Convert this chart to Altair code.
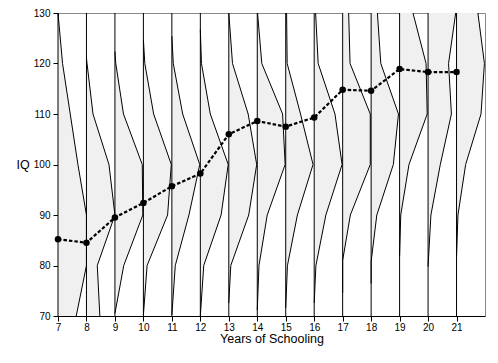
import altair as alt
import pandas as pd

# ---- data ----
YEARS = list(range(7, 22))
MEAN_IQ = [85.2, 84.5, 89.5, 92.4, 95.7, 98.2, 106.0, 108.6, 107.5, 109.3,
           114.8, 114.6, 118.9, 118.3, 118.3]
IQ_TICKS = [70, 80, 90, 100, 110, 120, 130]

# density profile per year: IQ levels and horizontal width (in years)
DENS_IQ = {
    7:  [130, 120, 110, 100, 90, 80, 70],
    8:  [121.1, 120, 110, 100, 90, 80, 70],
    9:  [122.4, 120, 110, 100, 90, 80, 70.5],
    10: [124.7, 120, 110, 100, 90, 80, 70.2],
    11: [125.4, 120, 110, 100, 90, 80, 70.2],
    12: [126.7, 120, 110, 100, 90, 80, 70],
    13: [130, 120, 110, 100, 90, 80, 72.6],
    14: [130, 120, 110, 100, 90, 80, 71.2],
    15: [130, 120, 110, 100, 90, 80, 71.6],
    16: [130, 120, 110, 100, 90, 80, 72.6],
    17: [130, 120, 110, 100, 90, 81, 74.6],
    18: [130, 120, 110, 100, 90, 80.8, 76.4],
    19: [130, 120, 110, 100, 90, 81.8],
    20: [130, 120, 110, 100, 90, 79.8],
    21: [130, 120, 110, 100, 90, 81.8],
}
DENS_W = {
    7:  [0.0, 0.16, 0.43, 0.70, 1.0, 1.0, 0.64],
    8:  [0.0, 0.02, 0.23, 0.79, 1.0, 0.38, 0.47],
    9:  [0.0, 0.03, 0.30, 0.96, 0.98, 0.31, 0.0],
    10: [0.0, 0.05, 0.36, 0.98, 0.85, 0.13, 0.0],
    11: [0.0, 0.05, 0.38, 0.98, 0.60, 0.12, 0.0],
    12: [0.0, 0.04, 0.35, 0.98, 0.73, 0.12, 0.0],
    13: [0.0, 0.13, 0.68, 0.98, 0.70, 0.07, 0.0],
    14: [0.01, 0.16, 0.89, 0.98, 0.35, 0.06, 0.0],
    15: [0.03, 0.05, 0.52, 0.96, 0.41, 0.06, 0.0],
    16: [0.05, 0.14, 0.73, 0.98, 0.41, 0.06, 0.0],
    17: [0.21, 0.26, 0.97, 0.97, 0.27, 0.0, 0.0],
    18: [0.22, 0.34, 0.96, 0.78, 0.20, 0.0, 0.0],
    19: [0.47, 0.93, 0.97, 0.33, 0.04, 0.0],
    20: [0.97, 0.72, 0.82, 0.43, 0.10, 0.0],
    21: [0.75, 0.98, 0.86, 0.32, 0.05, 0.0],
}

rows = []
for yr in YEARS:
    for iq, w in zip(DENS_IQ[yr], DENS_W[yr]):
        rows.append({"year": yr, "iq": iq, "x": yr + w, "base": yr})
dens = pd.DataFrame(rows)
means = pd.DataFrame({"year": YEARS, "iq": MEAN_IQ})
yrs = pd.DataFrame({"year": YEARS})

FONT = "Liberation Sans"
xscale = alt.Scale(domain=[7, 22], nice=False, zero=False)
yscale = alt.Scale(domain=[70, 130], nice=False, zero=False)

xaxis = alt.Axis(values=YEARS, tickCount=30, format="d", title="Years of Schooling",
                 grid=False, labelFontSize=10, titleFontSize=12.5,
                 titleFontWeight="normal", tickSize=5, labelPadding=1, titlePadding=0,
                 labelOverlap=False, labelFlush=False)
yaxis = alt.Axis(values=IQ_TICKS, tickCount=30, format="d", title="IQ", grid=False,
                 labelFontSize=10, titleFontSize=12.5, titleFontWeight="normal",
                 tickSize=5, labelPadding=3, titleAngle=0, titleAlign="left",
                 titleBaseline="middle", titleX=-42, titleY=151.5,
                 labelOverlap=False, labelFlush=False)

# filled density shapes, one polygon per year
area = alt.Chart(dens).mark_area(orient="horizontal", fill="#f0f0f0",
                                 fillOpacity=1, strokeWidth=0).encode(
    y=alt.Y("iq:Q", scale=yscale, axis=yaxis),
    x=alt.X("x:Q", scale=xscale, axis=xaxis, stack=None),
    x2=alt.X2("base:Q"),
    detail=alt.Detail("year:N"),
)

rules = alt.Chart(yrs).mark_rule(color="black", strokeWidth=1).encode(
    x=alt.X("year:Q", scale=xscale)
)

curves = alt.Chart(dens).mark_line(color="black", strokeWidth=1).encode(
    x=alt.X("x:Q", scale=xscale),
    y=alt.Y("iq:Q", scale=yscale),
    detail="year:N",
    order=alt.Order("iq:Q"),
)

mean_line = alt.Chart(means).mark_line(color="black", strokeWidth=2.2,
                                       strokeDash=[3.5, 2]).encode(
    x=alt.X("year:Q", scale=xscale),
    y=alt.Y("iq:Q", scale=yscale),
)
mean_pts = alt.Chart(means).mark_circle(color="black", size=42, opacity=1).encode(
    x=alt.X("year:Q", scale=xscale),
    y=alt.Y("iq:Q", scale=yscale),
)

chart = alt.layer(area, rules, curves, mean_line, mean_pts).properties(
    width=427, height=303,
    autosize=alt.AutoSizeParams(type="none"),
    padding={"left": 50, "top": 5, "right": 5, "bottom": 40},
).configure_view(stroke="#888888", strokeWidth=1).configure_axis(
    labelOverlap=False, labelFont=FONT, titleFont=FONT,
    domainColor="black", tickColor="black", labelColor="black", titleColor="black",
)

chart.save("out.html", embed_options={"renderer": "svg", "actions": False})
